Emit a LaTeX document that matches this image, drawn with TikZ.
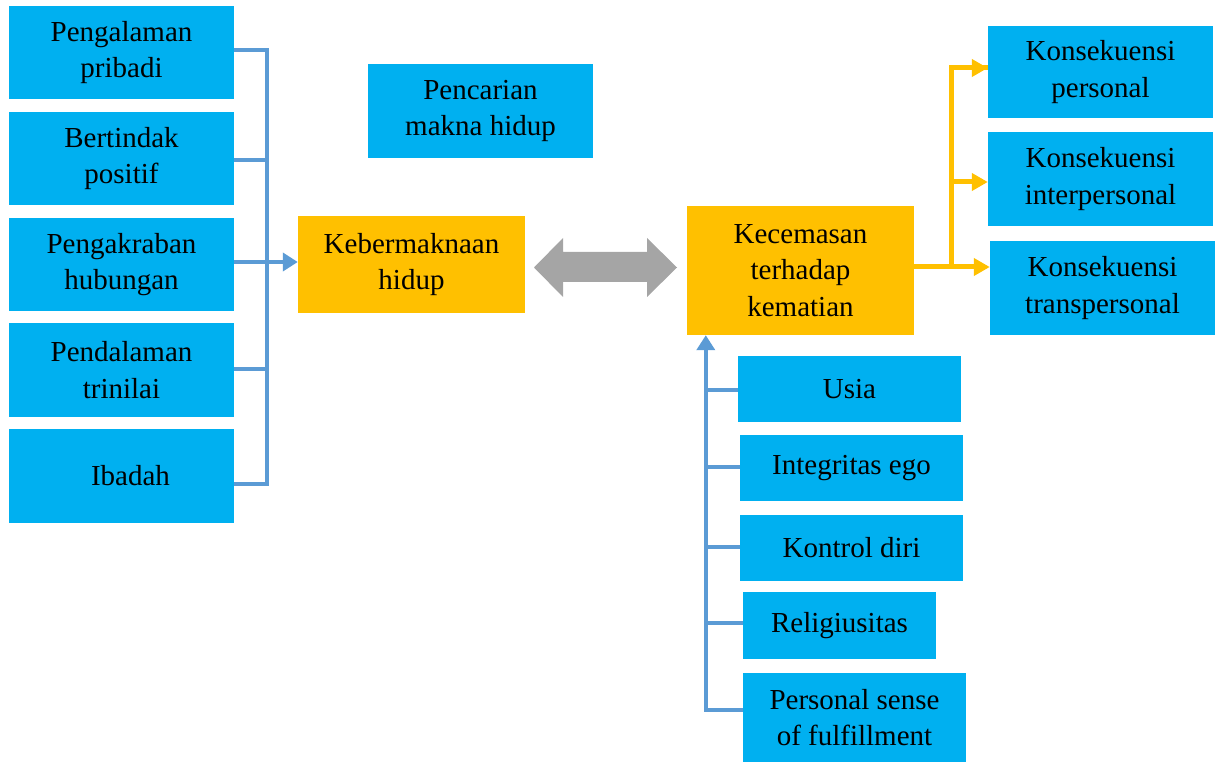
\documentclass[tikz,border=0pt]{standalone}
\usepackage{fontspec}
\setmainfont{Liberation Serif}
\newfontfamily\tnr{Liberation Serif}
\usetikzlibrary{arrows.meta}
\definecolor{boxblue}{HTML}{00B0F0}
\definecolor{boxgold}{HTML}{FFC000}
\definecolor{lineblue}{HTML}{5B9BD5}
\definecolor{arrowgray}{HTML}{A5A5A5}
\begin{document}
\begin{tikzpicture}[x=1pt,y=-1pt,
  bluebox/.style={rectangle,fill=boxblue,inner sep=0pt,align=center,text=black,
    font=\tnr\fontsize{29}{36.5}\selectfont},
  goldbox/.style={bluebox,fill=boxgold},
  bl/.style={draw=lineblue,line width=4.5pt},
  yl/.style={draw=boxgold,line width=5pt},
  bltip/.style={-{Triangle[length=15pt,width=18pt]}},
  yltip/.style={-{Triangle[length=16pt,width=17pt]}}]
\useasboundingbox (0,0) rectangle (1219,762);
% left column
\node[bluebox,minimum width=225pt,minimum height=93pt] (p1) at (121.5,52.5) {Pengalaman\\pribadi};
\node[bluebox,minimum width=225pt,minimum height=93pt] (p2) at (121.5,158.5) {Bertindak\\positif};
\node[bluebox,minimum width=225pt,minimum height=93pt] (p3) at (121.5,264.5) {Pengakraban\\hubungan};
\node[bluebox,minimum width=225pt,minimum height=94pt] (p4) at (121.5,370) {Pendalaman\\trinilai};
\node[bluebox,minimum width=225pt,minimum height=94pt] (p5) at (121.5,476) {\hspace*{18pt}Ibadah};
% middle
\node[bluebox,minimum width=225pt,minimum height=94pt] (pm) at (480.5,111) {Pencarian\\makna hidup};
\node[goldbox,minimum width=227pt,minimum height=97pt] (kb) at (411.5,264.5) {Kebermaknaan\\hidup};
\node[goldbox,minimum width=227pt,minimum height=129pt] (kc) at (800.5,270.5) {Kecemasan\\terhadap\\kematian};
% right column
\node[bluebox,minimum width=225pt,minimum height=92pt] (k1) at (1100.5,72) {Konsekuensi\\personal};
\node[bluebox,minimum width=225pt,minimum height=94pt] (k2) at (1100.5,179) {Konsekuensi\\interpersonal};
\node[bluebox,minimum width=225pt,minimum height=94pt] (k3) at (1102.5,288) {Konsekuensi\\transpersonal};
% bottom column
\node[bluebox,minimum width=223pt,minimum height=66pt] (u1) at (849.5,389) {Usia};
\node[bluebox,minimum width=223pt,minimum height=66pt] (u2) at (851.5,468) {Integritas ego};
\node[bluebox,minimum width=223pt,minimum height=66pt] (u3) at (851.5,548) {Kontrol diri};
\node[bluebox,minimum width=193pt,minimum height=67pt] (u4) at (839.5,625.5) {Religiusitas};
\node[bluebox,minimum width=223pt,minimum height=89pt] (u5) at (854.5,717.5) {Personal sense\\of fulfillment};
% left bracket
\coordinate (bt) at (267,50);
\coordinate (bb) at (267,484);
\draw[bl,line join=miter] ([yshift=2.5pt]p1.east) -- (bt) -- (bb) -- ([yshift=-8pt]p5.east);
\draw[bl] ([yshift=-1.5pt]p2.east) -- ([yshift=-1.5pt]p2.east -| bt);
\draw[bl] ([yshift=1pt]p4.east) -- ([yshift=1pt]p4.east -| bt);
\draw[bl,bltip] ([yshift=2.5pt]p3.east) -- ([yshift=2.5pt]kb.west);
% gray double arrow
\fill[arrowgray] (534,267.5) -- (563,238) -- (563,252) -- (647,252) -- (647,238)
  -- (677,267.5) -- (647,297) -- (647,282) -- (563,282) -- (563,297) -- cycle;
% yellow connectors
\coordinate (yv) at (951,267);
\draw[yl] ([yshift=3.5pt]kc.east) -- (yv);
\draw[yl,line join=miter] (yv) -- (951,68) -- ([yshift=4pt]k1.west);
\draw[yl,yltip] (951,68) -- ([yshift=4pt]k1.west);
\draw[yl,yltip] (951,182) -- ([yshift=-3pt]k2.west);
\draw[yl,yltip] (yv) -- ([yshift=21pt]k3.west);
% bottom bracket
\coordinate (bv) at (706,600);
\draw[bl,bltip,line join=miter] ([yshift=7.5pt]u5.west) -| ([xshift=19pt]kc.south west);
\draw[bl] ([yshift=-1pt]u1.west) -- ([yshift=-1pt]u1.west -| bv);
\draw[bl] ([yshift=1pt]u2.west) -- ([yshift=1pt]u2.west -| bv);
\draw[bl] ([yshift=1pt]u3.west) -- ([yshift=1pt]u3.west -| bv);
\draw[bl] ([yshift=2.5pt]u4.west) -- ([yshift=2.5pt]u4.west -| bv);
\end{tikzpicture}
\end{document}
